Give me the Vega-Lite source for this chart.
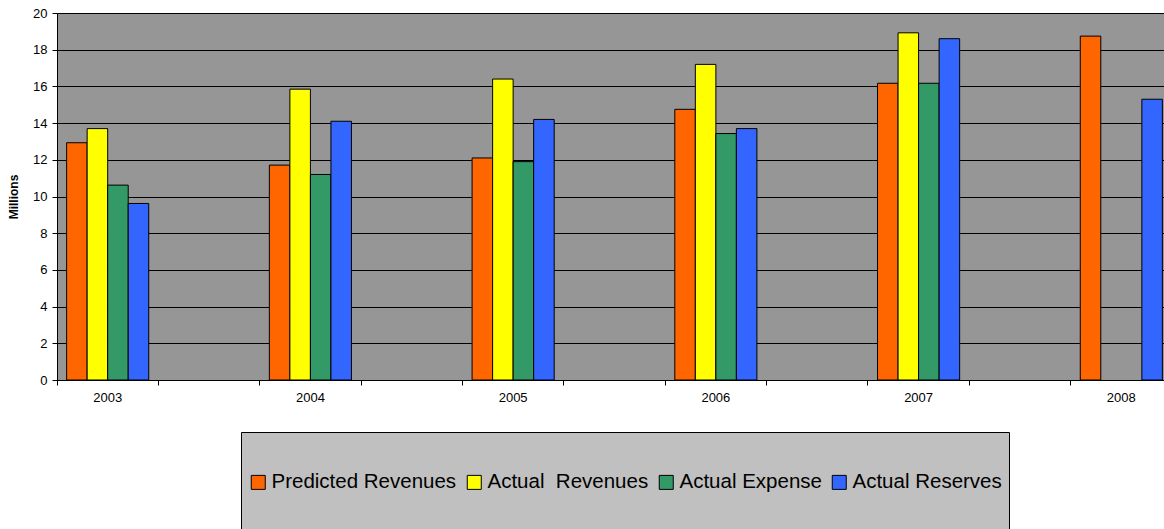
{
  "$schema": "https://vega.github.io/schema/vega-lite/v6.json",
  "autosize": "none",
  "width": 1115,
  "height": 367,
  "padding": {"left": 57, "top": 13, "right": -8, "bottom": 149},
  "background": "white",
  "config": {
    "font": "Liberation Sans",
    "view": {"fill": "#969696", "stroke": "#666666", "strokeWidth": 1}
  },
  "data": {
    "values": [
      {"year": "2003", "series": "Predicted Revenues", "value": 12.93},
      {"year": "2003", "series": "Actual\u00a0 Revenues", "value": 13.7},
      {"year": "2003", "series": "Actual Expense", "value": 10.62},
      {"year": "2003", "series": "Actual Reserves", "value": 9.62},
      {"year": "2004", "series": "Predicted Revenues", "value": 11.71},
      {"year": "2004", "series": "Actual\u00a0 Revenues", "value": 15.85},
      {"year": "2004", "series": "Actual Expense", "value": 11.2},
      {"year": "2004", "series": "Actual Reserves", "value": 14.1},
      {"year": "2005", "series": "Predicted Revenues", "value": 12.1},
      {"year": "2005", "series": "Actual\u00a0 Revenues", "value": 16.4},
      {"year": "2005", "series": "Actual Expense", "value": 11.9},
      {"year": "2005", "series": "Actual Reserves", "value": 14.2},
      {"year": "2006", "series": "Predicted Revenues", "value": 14.75},
      {"year": "2006", "series": "Actual\u00a0 Revenues", "value": 17.2},
      {"year": "2006", "series": "Actual Expense", "value": 13.43},
      {"year": "2006", "series": "Actual Reserves", "value": 13.7},
      {"year": "2007", "series": "Predicted Revenues", "value": 16.17},
      {"year": "2007", "series": "Actual\u00a0 Revenues", "value": 18.92},
      {"year": "2007", "series": "Actual Expense", "value": 16.17},
      {"year": "2007", "series": "Actual Reserves", "value": 18.6},
      {"year": "2008", "series": "Predicted Revenues", "value": 18.74},
      {"year": "2008", "series": "Actual Reserves", "value": 15.3}
    ]
  },
  "mark": {"type": "bar", "stroke": "black", "strokeWidth": 1},
  "encoding": {
    "x": {
      "field": "year",
      "type": "nominal",
      "scale": {
        "domain": ["2003", "g1", "2004", "g2", "2005", "g3", "2006", "g4", "2007", "g5", "2008"],
        "paddingInner": 0.19,
        "paddingOuter": 0.095
      },
      "axis": {
        "title": null,
        "labelAngle": 0,
        "labelExpr": "length(datum.label) == 4 ? datum.label : ''",
        "labelFontSize": 13,
        "labelColor": "black",
        "labelPadding": 6,
        "bandPosition": -0.117,
        "tickSize": 5,
        "tickColor": "black",
        "domainColor": "black",
        "grid": false
      }
    },
    "xOffset": {
      "field": "series",
      "type": "nominal",
      "scale": {
        "domain": ["Predicted Revenues", "Actual\u00a0 Revenues", "Actual Expense", "Actual Reserves"],
        "paddingInner": 0,
        "paddingOuter": 0
      }
    },
    "y": {
      "field": "value",
      "type": "quantitative",
      "scale": {"domain": [0, 20], "nice": false},
      "axis": {
        "title": "Millions",
        "titleFontSize": 12,
        "titleFontWeight": "bold",
        "titleColor": "black",
        "titlePadding": 12,
        "values": [0, 2, 4, 6, 8, 10, 12, 14, 16, 18, 20],
        "labelFontSize": 13,
        "labelColor": "black",
        "labelPadding": 5,
        "tickSize": 5,
        "tickColor": "black",
        "domainColor": "black",
        "grid": true,
        "gridColor": "black",
        "gridWidth": 1
      }
    },
    "color": {
      "field": "series",
      "type": "nominal",
      "scale": {
        "domain": ["Predicted Revenues", "Actual\u00a0 Revenues", "Actual Expense", "Actual Reserves"],
        "range": ["#FF6600", "#FFFF00", "#339966", "#3366FF"]
      },
      "legend": {
        "orient": "none",
        "legendX": 184,
        "legendY": 419,
        "direction": "horizontal",
        "title": " ",
        "titleFontSize": 10,
        "titlePadding": 23,
        "fillColor": "#C0C0C0",
        "strokeColor": "black",
        "padding": 7,
        "symbolType": "square",
        "symbolSize": 196,
        "symbolStrokeColor": "black",
        "symbolStrokeWidth": 1,
        "labelExpr": "[datum.label, '', '']",
        "labelFontSize": 20.5,
        "labelColor": "black",
        "labelOffset": 3,
        "columnPadding": 7,
        "labelLimit": 400
      }
    }
  }
}
